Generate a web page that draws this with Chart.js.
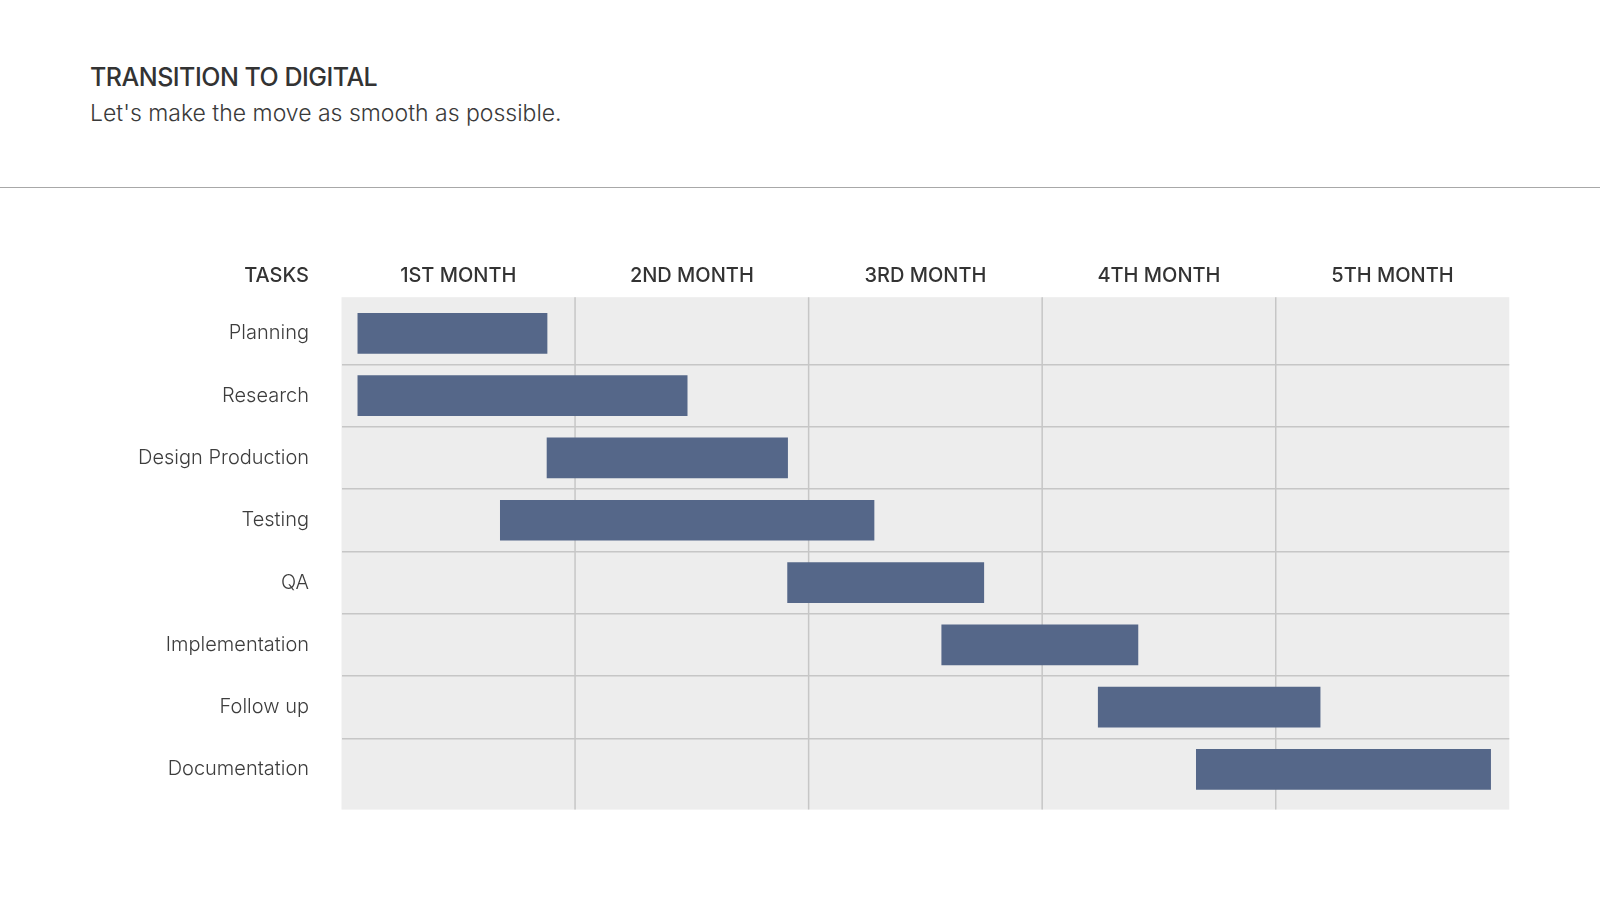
<!DOCTYPE html>
<html>
<head>
<meta charset="utf-8">
<title>Transition to digital</title>
<script src="https://cdn.jsdelivr.net/npm/chart.js@4.4.1/dist/chart.umd.min.js"></script>
<style>
  html, body { margin: 0; padding: 0; background: #fff; }
  #wrap { position: relative; width: 1600px; height: 900px; overflow: hidden; }
  .title { position: absolute; left: 90px; top: 65px; font: 500 25px/1 Inter, sans-serif; color: #333; letter-spacing: -0.5px; white-space: nowrap; }
  .subtitle { position: absolute; left: 90px; top: 102px; font: 300 23px/1 Inter, sans-serif; color: #3a3a3a; white-space: nowrap; }
  .rule { position: absolute; left: 0; top: 186.5px; width: 1600px; height: 1.5px; background: #a8a8a8; }
  #chart-box { position: absolute; left: 0; top: 0; width: 1600px; height: 900px; }
</style>
</head>
<body>
<div id="wrap">
  <div class="title">TRANSITION TO DIGITAL</div>
  <div class="subtitle">Let's make the move as smooth as possible.</div>
  <div class="rule"></div>
  <div id="chart-box"><canvas id="gantt"></canvas></div>
</div>
<script>
const tasks = ['Planning', 'Research', 'Design Production', 'Testing', 'QA', 'Implementation', 'Follow up', 'Documentation'];
const months = ['1ST MONTH', '2ND MONTH', '3RD MONTH', '4TH MONTH', '5TH MONTH'];
// when each task starts / ends, counted in months
const startMonth = [0.07, 0.07, 0.88, 0.68, 1.91, 2.57, 3.24, 3.66];
const endMonth = [0.88, 1.48, 1.91, 2.28, 2.75, 3.41, 4.19, 4.92];

const headPad = 14.7;
const labelPad = 32.5;
const fontFamily = 'Inter';

// grey table behind the bars, the month dividers and the "TASKS" header
const tableBack = {
  id: 'tableBack',
  beforeDraw(chart) {
    const { ctx, chartArea: a, scales: { x } } = chart;
    const top = a.top - 5;
    const bottom = a.bottom + 9;
    ctx.save();
    ctx.fillStyle = '#ededed';
    ctx.fillRect(a.left, top, a.right - a.left, bottom - top);
    ctx.strokeStyle = '#c6c6c6';
    ctx.lineWidth = 1.5;
    for (let m = 1; m < months.length; m++) {
      const px = x.getPixelForValue(m);
      ctx.beginPath();
      ctx.moveTo(px, top);
      ctx.lineTo(px, bottom);
      ctx.stroke();
    }
    ctx.font = '500 20px ' + fontFamily;
    ctx.fillStyle = '#333';
    ctx.textAlign = 'right';
    ctx.textBaseline = 'middle';
    ctx.fillText('TASKS', a.left - labelPad, a.top - headPad - 12);
    ctx.restore();
  }
};

new Chart(document.getElementById('gantt'), {
  type: 'bar',
  data: {
    labels: tasks,
    datasets: [{
      data: tasks.map((t, i) => [startMonth[i], endMonth[i]]),
      backgroundColor: '#556789',
      borderWidth: 0,
      borderSkipped: false,
      barThickness: 40,
      xAxisID: 'x',
      yAxisID: 'y'
    }]
  },
  options: {
    indexAxis: 'y',
    responsive: true,
    maintainAspectRatio: false,
    animation: false,
    layout: { padding: { left: 0, right: 90.7, top: 0, bottom: 99.4 } },
    plugins: {
      legend: { display: false },
      tooltip: { enabled: false }
    },
    scales: {
      x: { type: 'linear', min: 0, max: 5, display: false },
      x2: {
        type: 'category',
        labels: months,
        position: 'top',
        offset: true,
        grid: { display: false, drawTicks: false },
        border: { display: false },
        ticks: {
          color: '#333',
          font: { family: fontFamily, size: 20, weight: 500 },
          padding: headPad,
          maxRotation: 0,
          autoSkip: false
        },
        afterFit(s) { s.height = 302.2; }
      },
      y: {
        grid: {
          color: (c) => (c.index > 0 ? '#c6c6c6' : 'transparent'),
          lineWidth: 1.5,
          drawTicks: false,
          offset: true
        },
        border: { display: false },
        ticks: {
          color: '#3d3d3d',
          font: { family: fontFamily, size: 20, weight: 300 },
          padding: labelPad,
          autoSkip: false
        },
        afterFit(s) { s.width = 341.5; }
      }
    }
  },
  plugins: [tableBack]
});
</script>
</body>
</html>
